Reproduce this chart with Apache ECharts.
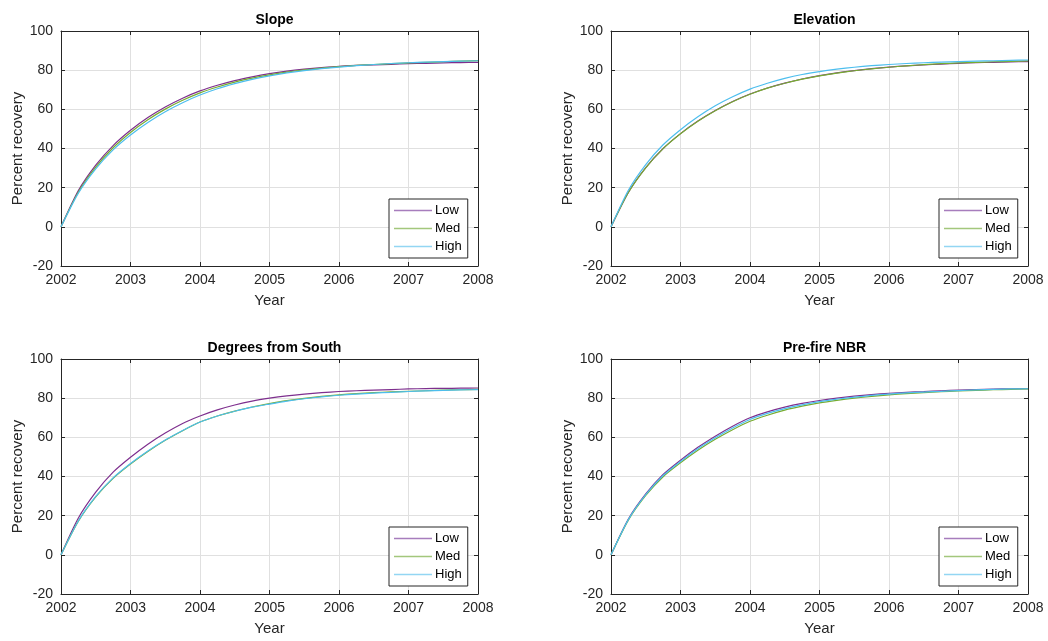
<!DOCTYPE html>
<html>
<head>
<meta charset="utf-8">
<title>Percent recovery</title>
<script src="https://cdn.jsdelivr.net/npm/echarts@6/dist/echarts.min.js"></script>
<style>
  html, body { margin: 0; padding: 0; background: #fff; }
  #chart { width: 1048px; height: 641px; }
</style>
</head>
<body>
<div id="chart"></div>
<script>
// x positions (quarter years)
var years = [2002, 2002.25, 2002.5, 2002.75, 2003, 2003.25, 2003.5, 2003.75, 2004,
  2004.25, 2004.5, 2004.75, 2005, 2005.25, 2005.5, 2005.75, 2006,
  2006.25, 2006.5, 2006.75, 2007, 2007.25, 2007.5, 2007.75, 2008];

var seriesNames = ['Low', 'Med', 'High'];
var panelTitles = ['Slope', 'Elevation', 'Degrees from South', 'Pre-fire NBR'];

// Slope
var slopeLow  = [0,18.5,31.5,41.5,49.3,55.8,61.2,65.7,69.4,72.3,74.7,76.6,78.2,79.5,80.5,81.3,82.0,82.4,82.7,83.0,83.3,83.5,83.7,83.9,84.0];
var slopeMed  = [0,17.8,30.5,40.4,48.2,54.7,60.1,64.6,68.4,71.4,73.9,75.9,77.6,79.0,80.1,81.0,81.8,82.4,82.9,83.3,83.7,84.0,84.3,84.6,84.9];
var slopeHigh = [0,17.2,29.6,39.3,46.9,53.3,58.8,63.4,67.3,70.5,73.1,75.3,77.1,78.6,79.8,80.8,81.6,82.3,82.9,83.4,83.8,84.1,84.4,84.6,84.8];

// Elevation
var elevLow  = [0,17.6,30.2,40.0,47.6,54.0,59.4,64.0,67.8,70.9,73.4,75.5,77.2,78.6,79.8,80.8,81.6,82.2,82.7,83.1,83.5,83.8,84.0,84.2,84.4];
var elevMed  = [0,17.5,30.1,39.9,47.5,53.9,59.3,63.9,67.7,70.8,73.3,75.4,77.1,78.5,79.7,80.7,81.5,82.2,82.8,83.3,83.7,84.0,84.3,84.5,84.7];
var elevHigh = [0,18.7,31.8,41.9,49.6,56.2,61.8,66.4,70.3,73.3,75.8,77.8,79.3,80.5,81.5,82.3,82.9,83.4,83.8,84.1,84.4,84.6,84.8,85.0,85.2];

// Degrees from South
var southLow  = [0,18.8,32.0,42.2,49.8,56.5,62.2,67.1,70.9,74.0,76.5,78.5,80.0,81.2,82.1,82.8,83.4,83.8,84.1,84.4,84.7,84.9,85.0,85.1,85.2];
var southMed  = [0,17.2,29.6,39.1,46.4,52.8,58.5,63.4,67.8,70.9,73.4,75.5,77.2,78.7,79.9,80.9,81.7,82.3,82.8,83.2,83.5,83.8,84.1,84.3,84.5];
var southHigh = [0,17.3,29.8,39.3,46.6,53.0,58.6,63.5,67.8,70.9,73.3,75.4,77.0,78.5,79.7,80.7,81.5,82.1,82.6,83.0,83.4,83.7,84.0,84.2,84.4];

// Pre-fire NBR
var nbrLow  = [0,18.3,31.1,41.0,48.3,54.9,60.6,65.7,70.0,73.0,75.4,77.3,78.8,80.0,81.0,81.8,82.5,83.0,83.4,83.8,84.1,84.4,84.6,84.8,84.9];
var nbrMed  = [0,17.7,30.3,39.9,47.0,53.4,59.0,63.9,68.2,71.3,73.9,75.9,77.6,78.9,80.0,80.9,81.7,82.3,82.8,83.3,83.7,84.0,84.3,84.5,84.7];
var nbrHigh = [0,18.0,30.7,40.5,47.7,54.2,59.8,64.8,69.1,72.2,74.7,76.6,78.2,79.5,80.5,81.4,82.1,82.7,83.1,83.5,83.9,84.2,84.5,84.7,84.8];

var panelData = [
  [slopeLow, slopeMed, slopeHigh],
  [elevLow, elevMed, elevHigh],
  [southLow, southMed, southHigh],
  [nbrLow, nbrMed, nbrHigh]
];

var colors = ['#7E2F8E', '#77AC30', '#4DBEEE'];
var legendColors = ['#a77dbd', '#a3c77c', '#93d6f3'];
var axisColor = '#262626';
var font = '"Liberation Sans", Arial, sans-serif';

// panel boxes
var boxes = [
  { left: 61, top: 31 },
  { left: 611, top: 31 },
  { left: 61, top: 359 },
  { left: 611, top: 359 }
];
var W = 417, H = 235;

function pairs(vals) {
  var out = [];
  for (var i = 0; i < years.length; i++) out.push([years[i], vals[i]]);
  return out;
}

var legendItems = seriesNames.map(function (n, i) {
  return { name: n, icon: 'rect', itemStyle: { color: legendColors[i], borderWidth: 0 },
    lineStyle: { color: legendColors[i], width: 1.5 } };
});

var grid = [], xAxis = [], yAxis = [], series = [], title = [], legend = [];

for (var p = 0; p < 4; p++) {
  var b = boxes[p];
  grid.push({ left: b.left, top: b.top, width: W, height: H });

  title.push({
    text: panelTitles[p],
    left: b.left + W / 2,
    top: b.top - 23,
    textAlign: 'center',
    textStyle: { fontFamily: font, fontSize: 14, fontWeight: 'bold', color: '#000' }
  });

  // bottom x axis (labelled)
  xAxis.push({
    gridIndex: p, type: 'value', position: 'bottom',
    min: 2002, max: 2008, interval: 1,
    name: 'Year', nameLocation: 'middle', nameGap: 27,
    nameTextStyle: { fontFamily: font, fontSize: 15, color: axisColor },
    axisLine: { show: true, onZero: false, lineStyle: { color: axisColor, width: 1 } },
    axisTick: { show: true, inside: true, length: 4, lineStyle: { color: axisColor } },
    axisLabel: { margin: 7, fontFamily: font, fontSize: 14, color: axisColor,
      formatter: function (v) { return String(v); } },
    splitLine: { show: true, lineStyle: { color: '#e0e0e0', width: 1 } }
  });
  // top x axis (box edge only)
  xAxis.push({
    gridIndex: p, type: 'value', position: 'top',
    min: 2002, max: 2008, interval: 1,
    axisLine: { show: true, onZero: false, lineStyle: { color: axisColor, width: 1 } },
    axisTick: { show: true, inside: true, length: 4, lineStyle: { color: axisColor } },
    axisLabel: { show: false }, splitLine: { show: false }
  });

  yAxis.push({
    gridIndex: p, type: 'value', position: 'left',
    min: -20, max: 100, interval: 20,
    name: 'Percent recovery', nameLocation: 'middle', nameGap: 36, nameRotate: 90,
    nameTextStyle: { fontFamily: font, fontSize: 15, color: axisColor },
    axisLine: { show: true, onZero: false, lineStyle: { color: axisColor, width: 1 } },
    axisTick: { show: true, inside: true, length: 4, lineStyle: { color: axisColor } },
    axisLabel: { margin: 8, fontFamily: font, fontSize: 14, color: axisColor },
    splitLine: { show: true, lineStyle: { color: '#e0e0e0', width: 1 } }
  });
  yAxis.push({
    gridIndex: p, type: 'value', position: 'right',
    min: -20, max: 100, interval: 20,
    axisLine: { show: true, onZero: false, lineStyle: { color: axisColor, width: 1 } },
    axisTick: { show: true, inside: true, length: 4, lineStyle: { color: axisColor } },
    axisLabel: { show: false }, splitLine: { show: false }
  });

  for (var s = 0; s < 3; s++) {
    series.push({
      name: seriesNames[s],
      type: 'line',
      xAxisIndex: 2 * p, yAxisIndex: 2 * p,
      data: pairs(panelData[p][s]),
      symbol: 'none',
      smooth: 0.25,
      color: colors[s],
      lineStyle: { color: colors[s], width: 1.2 },
      animation: false
    });
  }

  legend.push({
    data: legendItems,
    orient: 'vertical',
    left: b.left + 328, top: b.top + 168,
    itemWidth: 38, itemHeight: 1.5, itemGap: 3,
    padding: [4, 6, 4, 5],
    backgroundColor: '#fff',
    borderColor: axisColor, borderWidth: 1, borderRadius: 0,
    textStyle: { fontFamily: font, fontSize: 13, color: '#000', lineHeight: 15, padding: [0, 0, 0, -2] },
    selectedMode: false
  });
}

var chart = echarts.init(document.getElementById('chart'));
chart.setOption({
  animation: false,
  backgroundColor: '#fff',
  title: title,
  legend: legend,
  grid: grid,
  xAxis: xAxis,
  yAxis: yAxis,
  series: series
});

window.onresize = function () { chart.resize(); };
</script>
</body>
</html>
